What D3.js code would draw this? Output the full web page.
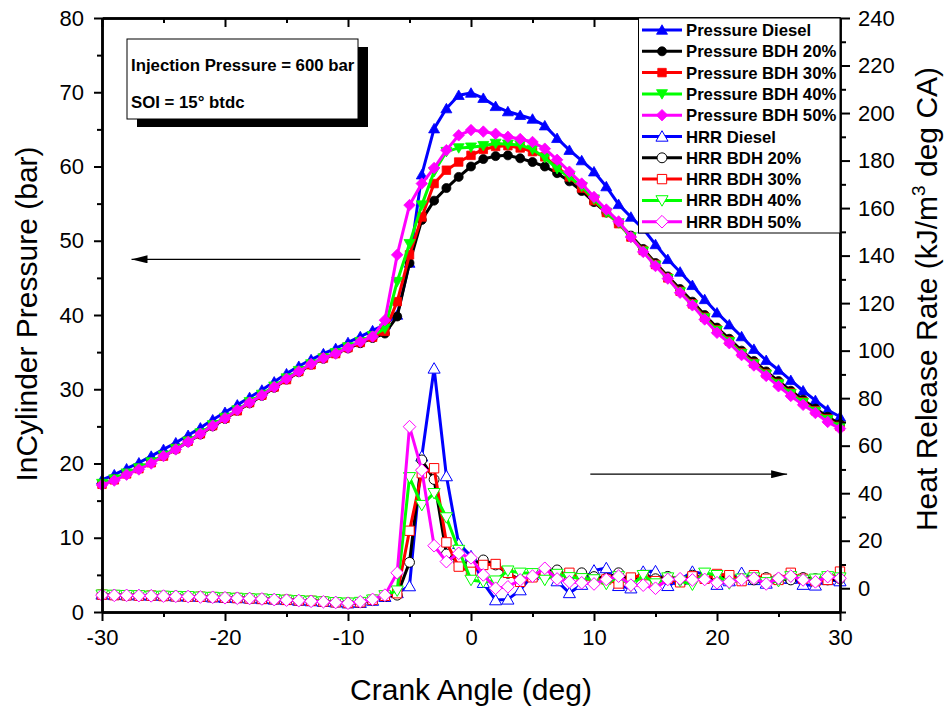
<!DOCTYPE html>
<html>
<head>
<meta charset="utf-8">
<script src="https://cdn.jsdelivr.net/npm/d3@7"></script>
<style>
  html, body { margin: 0; padding: 0; background: #fff; }
  svg { display: block; font-family: "Liberation Sans", Arial, sans-serif; }
</style>
</head>
<body>
<svg id="chart" width="949" height="713"></svg>
<script>
// Crank angle (deg), one sample per degree
const crankAngle = d3.range(-30, 31, 1);

// In-cylinder pressure (bar)
const pressureDiesel = [17.8, 18.5, 19.3, 20.1, 21.0, 21.9, 22.8, 23.8, 24.8, 25.9, 26.9, 27.9, 28.9, 29.9, 31.0, 32.1, 33.1, 34.0, 34.8, 35.5, 36.3, 37.1, 37.9,
  38.7, 40.0, 47.0, 58.9, 65.1, 67.8, 69.6, 69.9,
  69.2, 68.1, 67.4, 66.9, 66.4, 65.5, 63.8, 62.2, 60.8, 59.3,
  57.3, 54.9, 53.2, 51.6, 49.5, 47.5, 45.8, 44.0, 42.1, 40.3,
  38.7, 37.1, 35.4, 33.9, 32.6, 31.2, 29.8, 28.5, 27.2, 26.3];
const pressureBDH20 = [17.2, 17.9, 18.6, 19.3, 20.1, 21.0, 21.9, 22.9, 23.9, 25.0, 26.0, 27.1, 28.1, 29.1, 30.2, 31.3, 32.3, 33.3, 34.1, 34.8, 35.5, 36.2, 36.9,
  37.5, 39.8, 47.0, 52.8, 55.4, 57.1, 58.6, 60.0,
  61.0, 61.4, 61.5, 61.1, 60.6, 60.0, 59.1, 58.0, 56.7, 55.2,
  53.8, 52.4, 50.7, 48.9, 47.0, 45.2, 43.5, 41.8, 40.0, 38.3,
  36.8, 35.2, 33.8, 32.4, 31.1, 29.8, 28.6, 27.4, 26.3, 25.3];
const pressureBDH30 = [17.2, 17.8, 18.6, 19.3, 20.1, 21.0, 22.0, 23.0, 24.0, 25.1, 26.1, 27.1, 28.2, 29.2, 30.3, 31.3, 32.4, 33.3, 34.2, 34.8, 35.6, 36.3, 37.0,
  37.8, 41.8, 48.1, 53.2, 57.7, 59.5, 60.6, 61.5,
  62.3, 62.7, 62.8, 62.5, 62.0, 61.3, 59.9, 58.6, 57.1, 55.4,
  53.8, 52.3, 50.5, 48.7, 46.8, 45.0, 43.2, 41.5, 39.7, 38.0,
  36.5, 34.9, 33.5, 32.1, 30.8, 29.5, 28.3, 27.1, 26.0, 25.0];
const pressureBDH40 = [17.3, 17.9, 18.7, 19.4, 20.2, 21.1, 22.0, 23.0, 24.1, 25.2, 26.2, 27.2, 28.3, 29.3, 30.4, 31.5, 32.5, 33.4, 34.2, 34.9, 35.7, 36.4, 37.2,
  38.2, 44.5, 49.6, 54.8, 59.3, 62.0, 62.5, 62.6,
  62.8, 63.1, 63.0, 62.9, 62.3, 61.2, 59.7, 58.6, 57.3, 55.6,
  53.8, 52.4, 50.5, 48.6, 46.7, 44.9, 43.1, 41.4, 39.6, 37.9,
  36.4, 34.8, 33.4, 32.0, 30.7, 29.4, 28.2, 27.0, 25.9, 24.9];
const pressureBDH50 = [17.1, 17.7, 18.5, 19.2, 20.0, 21.0, 21.9, 22.9, 24.0, 25.1, 26.1, 27.2, 28.2, 29.2, 30.3, 31.4, 32.4, 33.4, 34.2, 34.8, 35.6, 36.4, 37.1,
  39.3, 48.1, 54.8, 57.7, 59.8, 62.2, 64.2, 64.9,
  64.7, 64.4, 64.0, 63.7, 63.3, 62.4, 60.9, 59.3, 57.7, 55.9,
  54.2, 52.6, 50.5, 48.5, 46.6, 44.9, 43.0, 41.3, 39.4, 37.6,
  36.2, 34.6, 33.2, 31.8, 30.4, 29.1, 27.9, 26.8, 25.6, 24.7];

// Heat release rate (kJ/m3 deg CA)
const hrrDiesel = [-2.6, -2.8, -2.9, -3.0, -3.1, -3.2, -3.4, -3.5, -3.6, -3.8, -4.0, -4.1, -4.3, -4.5, -4.7, -4.9, -5.2, -5.4, -5.7, -5.9, -6.3, -6.1, -5.2, -3.6,
  -2.0, 0.9, 55.5, 92.5, 47.2, 18.7, 13.5,
  2.3, -5.0, -4.7, -0.8, 5.5, 6.5, 3.0, -2.0, 1.5, 7.5,
  8.5, 1.0, 0.0, 7.0, 7.2, 1.0, 3.5, 7.0, 6.0, 1.5,
  3.0, 6.5, 3.5, 2.0, 4.0, 4.0, 1.5, 1.2, 3.5, 3.0];
const hrrBDH20 = [-2.8, -2.9, -3.0, -3.0, -3.2, -3.3, -3.3, -3.5, -3.6, -3.8, -3.9, -4.1, -4.2, -4.5, -4.7, -4.9, -5.1, -5.4, -5.6, -5.9, -6.2, -6.0, -5.0, -3.4,
  -2.9, 10.9, 54.0, 45.8, 14.4, 11.2, 10.1,
  11.9, 9.8, 6.3, 3.5, 4.9, 7.7, 7.7, 4.9, 6.5, 4.9,
  4.2, 6.5, 3.0, 5.5, 4.0, 5.0, 3.5, 5.5, 4.0, 4.5,
  5.0, 4.0, 3.5, 4.5, 4.0, 3.5, 4.5, 4.0, 3.5, 4.0];
const hrrBDH30 = [-2.7, -2.9, -3.0, -3.1, -3.1, -3.3, -3.4, -3.5, -3.6, -3.7, -3.9, -4.1, -4.3, -4.5, -4.6, -4.9, -5.1, -5.3, -5.6, -5.9, -6.2, -5.9, -4.9, -3.2,
  -2.1, 24.2, 48.4, 50.5, 19.3, 9.1, 6.9,
  9.8, 10.2, 6.5, 2.7, 4.6, 6.5, 5.6, 6.5, 4.2, 3.5,
  3.7, 2.0, 4.5, 5.5, 3.0, 4.0, 2.5, 5.0, 4.0, 6.0,
  5.5, 3.0, 5.5, 4.0, 3.5, 6.5, 4.0, 3.0, 3.5, 7.0];
const hrrBDH40 = [-2.7, -2.8, -2.9, -3.0, -3.2, -3.2, -3.3, -3.4, -3.6, -3.7, -3.9, -4.1, -4.3, -4.4, -4.6, -4.9, -5.1, -5.3, -5.6, -5.9, -6.1, -5.8, -4.8, -3.0,
  -1.0, 46.7, 35.0, 40.0, 29.8, 16.1, 3.5,
  2.7, 3.2, 7.4, 6.5, 6.3, 3.5, 6.0, 4.6, 4.2, 3.7,
  1.8, 5.0, 1.0, 5.5, 2.0, 4.5, 3.0, 1.5, 6.5, 5.5,
  2.0, 4.0, 4.5, 2.5, 3.0, 5.0, 3.5, 4.0, 5.0, 4.5];
const hrrBDH50 = [-2.9, -3.0, -3.0, -3.1, -3.2, -3.3, -3.4, -3.5, -3.7, -3.8, -4.0, -4.2, -4.3, -4.5, -4.8, -5.0, -5.2, -5.5, -5.7, -6.0, -6.3, -5.7, -4.7, -2.9,
  6.5, 68.0, 49.7, 17.9, 11.2, 14.7, 12.8,
  5.6, 0.0, 0.6, 3.5, 5.1, 8.4, 3.9, 2.7, 2.3, 1.8,
  3.7, 5.1, 1.3, 1.3, 0.0, 3.7, 4.0, 3.5, 3.7, 2.3,
  2.7, 3.7, 4.2, 1.8, 4.2, 5.1, 3.5, 2.7, 4.9, 4.2];

// Axis ticks
const xTicks = [-30, -20, -10, 0, 10, 20, 30];
const pressureTicks = [0, 10, 20, 30, 40, 50, 60, 70, 80];
const hrrTicks = [0, 20, 40, 60, 80, 100, 120, 140, 160, 180, 200, 220, 240];

// Series definitions (name, values, colour, marker, axis)
const seriesNames = ["Pressure Diesel", "Pressure BDH 20%", "Pressure BDH 30%", "Pressure BDH 40%", "Pressure BDH 50%",
  "HRR Diesel", "HRR BDH 20%", "HRR BDH 30%", "HRR BDH 40%", "HRR BDH 50%"];
const seriesColors = ["#0000ff", "#000000", "#ff0000", "#00ff00", "#ff00ff"];

const series = [
  { name: seriesNames[0], values: pressureDiesel, color: seriesColors[0], shape: "up", axis: "p", filled: true },
  { name: seriesNames[1], values: pressureBDH20, color: seriesColors[1], shape: "circle", axis: "p", filled: true },
  { name: seriesNames[2], values: pressureBDH30, color: seriesColors[2], shape: "square", axis: "p", filled: true },
  { name: seriesNames[3], values: pressureBDH40, color: seriesColors[3], shape: "down", axis: "p", filled: true },
  { name: seriesNames[4], values: pressureBDH50, color: seriesColors[4], shape: "diamond", axis: "p", filled: true },
  { name: seriesNames[5], values: hrrDiesel, color: seriesColors[0], shape: "up", axis: "h", filled: false },
  { name: seriesNames[6], values: hrrBDH20, color: seriesColors[1], shape: "circle", axis: "h", filled: false },
  { name: seriesNames[7], values: hrrBDH30, color: seriesColors[2], shape: "square", axis: "h", filled: false },
  { name: seriesNames[8], values: hrrBDH40, color: seriesColors[3], shape: "down", axis: "h", filled: false },
  { name: seriesNames[9], values: hrrBDH50, color: seriesColors[4], shape: "diamond", axis: "h", filled: false }
];

const svg = d3.select("#chart");
const L = 102, R = 840, T = 18, B = 612;

const x = d3.scaleLinear().domain([-30, 30]).range([L, R]);
const yP = d3.scaleLinear().domain([0, 80]).range([B, T]);
const yH = d3.scaleLinear().domain([-10, 240]).range([B, T]);

// Plain hyphen-minus tick labels
const plainFormat = d => String(d);

// Marker path generator centred on (0,0)
function markerPath(shape, s) {
  const h = s / 2;
  switch (shape) {
    case "up": return `M0,${-h * 1.05}L${h * 1.1},${h * 0.85}L${-h * 1.1},${h * 0.85}Z`;
    case "down": return `M0,${h * 1.05}L${h * 1.1},${-h * 0.85}L${-h * 1.1},${-h * 0.85}Z`;
    case "square": return `M${-h * 0.85},${-h * 0.85}H${h * 0.85}V${h * 0.85}H${-h * 0.85}Z`;
    case "diamond": return `M0,${-h * 1.15}L${h * 1.15},0L0,${h * 1.15}L${-h * 1.15},0Z`;
    default: {
      const r = h * 0.9;
      return `M${r},0A${r},${r},0,1,1,${-r},0A${r},${r},0,1,1,${r},0Z`;
    }
  }
}

// Data lines and markers
const plot = svg.append("g");
series.forEach(sr => {
  const yS = sr.axis === "p" ? yP : yH;
  const pts = crankAngle.map((a, i) => [a, sr.values[i]]);
  plot.append("path")
    .datum(pts)
    .attr("fill", "none")
    .attr("stroke", sr.color)
    .attr("stroke-width", 3)
    .attr("stroke-linejoin", "round")
    .attr("d", d3.line().x(d => x(d[0])).y(d => yS(d[1])));
  plot.append("g").selectAll("path")
    .data(pts)
    .join("path")
    .attr("transform", d => `translate(${x(d[0])},${yS(d[1])})`)
    .attr("d", markerPath(sr.shape, sr.filled ? 10 : 11))
    .attr("fill", sr.filled ? sr.color : "#fff")
    .attr("stroke", sr.color)
    .attr("stroke-width", sr.filled ? 0.8 : 1);
});

// Axes
const tickFont = 22;
function styleAxis(g) {
  g.select(".domain").attr("stroke", "#000").attr("stroke-width", 2.5);
  g.selectAll(".tick line").attr("stroke", "#000").attr("stroke-width", 2);
  g.selectAll(".tick text").attr("font-size", tickFont).attr("fill", "#000")
    .attr("font-family", "'Liberation Sans', Arial, sans-serif");
}

const xMinor = d3.range(-25, 30, 10);
svg.append("g").attr("transform", `translate(0,${B})`)
  .call(d3.axisBottom(x).tickValues(xTicks).tickFormat(plainFormat).tickSize(9).tickPadding(8).tickSizeOuter(0))
  .call(styleAxis);
svg.append("g").attr("transform", `translate(0,${B})`)
  .call(d3.axisBottom(x).tickValues(xMinor).tickSize(5).tickFormat("").tickSizeOuter(0))
  .call(styleAxis);
// Top frame with inward ticks
svg.append("g").attr("transform", `translate(0,${T})`)
  .call(d3.axisBottom(x).tickValues(xTicks).tickSize(9).tickFormat("").tickSizeOuter(0))
  .call(styleAxis);
svg.append("g").attr("transform", `translate(0,${T})`)
  .call(d3.axisBottom(x).tickValues(xMinor).tickSize(5).tickFormat("").tickSizeOuter(0))
  .call(styleAxis);

svg.append("g").attr("transform", `translate(${L},0)`)
  .call(d3.axisLeft(yP).tickValues(pressureTicks).tickFormat(plainFormat).tickSize(8).tickPadding(10).tickSizeOuter(0))
  .call(styleAxis);
svg.append("g").attr("transform", `translate(${L},0)`)
  .call(d3.axisLeft(yP).tickValues(d3.range(5, 80, 10)).tickSize(5).tickFormat("").tickSizeOuter(0))
  .call(styleAxis);

svg.append("g").attr("transform", `translate(${R},0)`)
  .call(d3.axisRight(yH).tickValues(hrrTicks).tickFormat(plainFormat).tickSize(10).tickPadding(8).tickSizeOuter(0))
  .call(styleAxis);
svg.append("g").attr("transform", `translate(${R},0)`)
  .call(d3.axisRight(yH).tickValues(d3.range(-10, 240, 20)).tickSize(6).tickFormat("").tickSizeOuter(0))
  .call(styleAxis);

// Axis titles
svg.append("text")
  .attr("x", 471).attr("y", 700)
  .attr("text-anchor", "middle").attr("font-size", 30)
  .text("Crank Angle (deg)");
svg.append("text")
  .attr("transform", `translate(37,${314}) rotate(-90)`)
  .attr("text-anchor", "middle").attr("font-size", 30)
  .text("InCylinder Pressure (bar)");
const rt = svg.append("text")
  .attr("transform", `translate(937,${299}) rotate(-90)`)
  .attr("text-anchor", "middle").attr("font-size", 30);
rt.append("tspan").text("Heat Release Rate (kJ/m");
rt.append("tspan").attr("font-size", 19).attr("dy", -12).text("3");
rt.append("tspan").attr("dy", 12).text(" deg CA)");

// Direction arrows
const defs = svg.append("defs");
defs.append("marker").attr("id", "arrowHead")
  .attr("viewBox", "0 0 16 8").attr("refX", 16).attr("refY", 4)
  .attr("markerWidth", 16).attr("markerHeight", 8)
  .attr("markerUnits", "userSpaceOnUse").attr("orient", "auto")
  .append("path").attr("d", "M0,0L16,4L0,8Z").attr("fill", "#000");
svg.append("line")
  .attr("x1", x(-9)).attr("x2", x(-27.6)).attr("y1", yP(47.5)).attr("y2", yP(47.5))
  .attr("stroke", "#000").attr("stroke-width", 1.2).attr("marker-end", "url(#arrowHead)");
svg.append("line")
  .attr("x1", x(9.7)).attr("x2", x(25.7)).attr("y1", yH(48)).attr("y2", yH(48))
  .attr("stroke", "#000").attr("stroke-width", 1.2).attr("marker-end", "url(#arrowHead)");

// Condition note with drop shadow
const note = svg.append("g");
note.append("rect").attr("x", 137).attr("y", 47).attr("width", 231).attr("height", 80).attr("fill", "#000");
note.append("rect").attr("x", 127).attr("y", 39).attr("width", 231).attr("height", 80)
  .attr("fill", "#fff").attr("stroke", "#000").attr("stroke-width", 1);
note.append("text").attr("x", 131).attr("y", 71).attr("font-size", 16.8).attr("font-weight", "bold")
  .text("Injection Pressure = 600 bar");
note.append("text").attr("x", 131).attr("y", 108).attr("font-size", 16.8).attr("font-weight", "bold")
  .text("SOI = 15° btdc");

// Legend
const leg = svg.append("g");
leg.append("rect").attr("x", 638.5).attr("y", T).attr("width", R - 638.5).attr("height", 215)
  .attr("fill", "#fff").attr("stroke", "#000").attr("stroke-width", 1);
series.forEach((sr, i) => {
  const yy = 30 + i * 21.3;
  leg.append("line").attr("x1", 642).attr("x2", 682).attr("y1", yy).attr("y2", yy)
    .attr("stroke", sr.color).attr("stroke-width", 3);
  leg.append("path").attr("transform", `translate(662,${yy})`)
    .attr("d", markerPath(sr.shape, sr.filled ? 10 : 11))
    .attr("fill", sr.filled ? sr.color : "#fff")
    .attr("stroke", sr.color).attr("stroke-width", sr.filled ? 0.8 : 1);
  leg.append("text").attr("x", 686).attr("y", yy + 6)
    .attr("font-size", 16.7).attr("font-weight", "bold").text(sr.name);
});
</script>
</body>
</html>
